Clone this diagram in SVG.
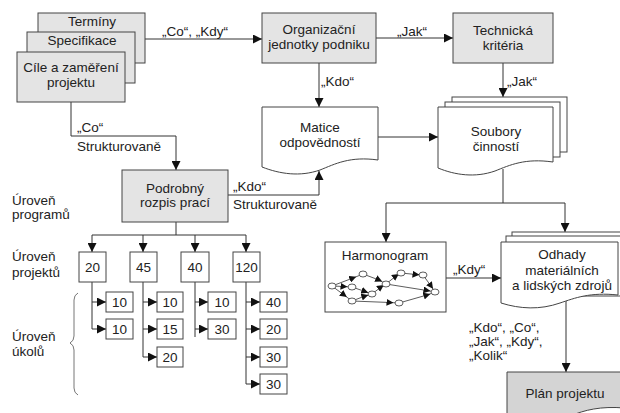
<svg xmlns="http://www.w3.org/2000/svg" width="620" height="413" viewBox="0 0 620 413">
<style>
text{font-family:"Liberation Sans",Arial,sans-serif;font-size:13.5px;fill:#222}
.c{text-anchor:middle}
.g{fill:#e4e4e4;stroke:#444;stroke-width:1}
.w{fill:#fff;stroke:#444;stroke-width:1}
.p{fill:#d4d4d4;stroke:#444;stroke-width:1}
.ln{fill:none;stroke:#333;stroke-width:1}
.nl{fill:none;stroke:#333;stroke-width:0.8}
.nd{fill:#fff;stroke:#333;stroke-width:0.8}
</style>
<defs>
<marker id="ah" viewBox="0 0 10 10" refX="10" refY="5" markerWidth="9" markerHeight="9" markerUnits="userSpaceOnUse" orient="auto"><path d="M0,0 L10,5 L0,10 Z" fill="#111"/></marker>
<marker id="sm" viewBox="0 0 10 10" refX="5" refY="5" markerWidth="7" markerHeight="7" markerUnits="userSpaceOnUse" orient="auto"><path d="M0,0 L10,5 L0,10 Z" fill="#111"/></marker>
</defs>

<g id="connectors">
<path class="ln" d="M145,39 H262" marker-end="url(#ah)"/>
<path class="ln" d="M376,38 H453" marker-end="url(#ah)"/>
<path class="ln" d="M319,63 V107" marker-end="url(#ah)"/>
<path class="ln" d="M503,63 V97" marker-end="url(#ah)"/>
<path class="ln" d="M378,137 H438" marker-end="url(#ah)"/>
<path class="ln" d="M71,102 V136 H176 V170" marker-end="url(#ah)"/>
<path class="ln" d="M228,195 H319 V171" marker-end="url(#ah)"/>
<path class="ln" d="M503,169 V203"/>
<path class="ln" d="M386,203 H565"/>
<path class="ln" d="M386,203 V242" marker-end="url(#ah)"/>
<path class="ln" d="M565,203 V232" marker-end="url(#ah)"/>
<path class="ln" d="M446,278 H501" marker-end="url(#ah)"/>
<path class="ln" d="M566,300 V372" marker-end="url(#ah)"/>
<path class="ln" d="M176,222 V235"/>
<path class="ln" d="M92,235 H246"/>
<path class="ln" d="M92,235 V252" marker-end="url(#ah)"/>
<path class="ln" d="M143,235 V252" marker-end="url(#ah)"/>
<path class="ln" d="M195,235 V252" marker-end="url(#ah)"/>
<path class="ln" d="M246,235 V252" marker-end="url(#ah)"/>
<path class="ln" d="M92,282 V329"/>
<path class="ln" d="M92,302 H106" marker-end="url(#ah)"/>
<path class="ln" d="M92,329 H106" marker-end="url(#ah)"/>
<path class="ln" d="M143,282 V357"/>
<path class="ln" d="M143,302 H157" marker-end="url(#ah)"/>
<path class="ln" d="M143,329 H157" marker-end="url(#ah)"/>
<path class="ln" d="M143,357 H157" marker-end="url(#ah)"/>
<path class="ln" d="M195,282 V337"/>
<path class="ln" d="M195,302 H208" marker-end="url(#ah)"/>
<path class="ln" d="M195,329 H208" marker-end="url(#ah)"/>
<path class="ln" d="M246,282 V384"/>
<path class="ln" d="M246,302 H260" marker-end="url(#ah)"/>
<path class="ln" d="M246,329 H260" marker-end="url(#ah)"/>
<path class="ln" d="M246,357 H260" marker-end="url(#ah)"/>
<path class="ln" d="M246,384 H260" marker-end="url(#ah)"/>
</g>

<g id="labels">
<text x="162" y="36">„Co“, „Kdy“</text>
<text x="397" y="36">„Jak“</text>
<text x="321" y="86">„Kdo“</text>
<text x="507" y="86">„Jak“</text>
<text x="77" y="132">„Co“</text>
<text x="77" y="151">Strukturovaně</text>
<text x="233" y="191">„Kdo“</text>
<text x="233" y="209">Strukturovaně</text>
<text x="453" y="274">„Kdy“</text>
<text x="469" y="332">„Kdo“, „Co“,</text>
<text x="469" y="346">„Jak“, „Kdy“,</text>
<text x="469" y="360">„Kolik“</text>
<text x="12" y="205">Úroveň</text>
<text x="12" y="219">programů</text>
<text x="12" y="261">Úroveň</text>
<text x="12" y="277">projektů</text>
<text x="12" y="341">Úroveň</text>
<text x="12" y="356">úkolů</text>
<path d="M78,293 Q74,295 74,300 L74,336 Q74,341 70,343 Q74,345 74,350 L74,388 Q74,393 78,395" fill="none" stroke="#777" stroke-width="1"/>
</g>

<g id="terminy"><rect class="g" x="38" y="13" width="107" height="50"/><text class="c" x="92" y="26">Termíny</text></g>
<g id="specifikace"><rect class="g" x="27" y="32" width="108" height="51"/><text class="c" x="82" y="45">Specifikace</text></g>
<g id="cile"><rect class="g" x="17" y="52" width="108" height="50"/><text class="c" x="71" y="72">Cíle a zaměření</text><text class="c" x="71" y="87">projektu</text></g>
<g id="organizacni"><rect class="g" x="262" y="13" width="114" height="50"/><text class="c" x="319" y="34">Organizační</text><text class="c" x="319" y="49">jednotky podniku</text></g>
<g id="technicka"><rect class="g" x="453" y="13" width="100" height="50"/><text class="c" x="503" y="35">Technická</text><text class="c" x="503" y="50">kritéria</text></g>
<g id="matice"><path class="w" d="M262,107 H378 V160 C350,156 335,164 320,170 C300,177 280,174 262,167 Z"/><text class="c" x="320" y="132">Matice</text><text class="c" x="320" y="147">odpovědností</text></g>
<g id="soubory">
<rect class="w" x="452" y="97" width="115" height="55"/>
<rect class="w" x="445" y="102" width="115" height="55"/>
<path class="w" d="M438,107 H553 V162 C525,158 510,165 495,171 C475,178 455,175 438,168 Z"/>
<text class="c" x="496" y="136">Soubory</text><text class="c" x="496" y="151">činností</text></g>
<g id="podrobny"><rect class="g" x="122" y="170" width="106" height="52"/><text class="c" x="175" y="193">Podrobný</text><text class="c" x="175" y="207">rozpis prací</text></g>
<g id="p20"><rect class="w" x="79" y="252" width="27" height="30"/><text class="c" x="92.5" y="272">20</text></g>
<g id="p45"><rect class="w" x="130" y="252" width="27" height="30"/><text class="c" x="143.5" y="272">45</text></g>
<g id="p40"><rect class="w" x="181" y="252" width="28" height="30"/><text class="c" x="195" y="272">40</text></g>
<g id="p120"><rect class="w" x="233" y="252" width="27" height="30"/><text class="c" x="246.5" y="272">120</text></g>
<g id="t1a"><rect class="w" x="106" y="292" width="27" height="20"/><text class="c" x="119.5" y="307">10</text></g>
<g id="t1b"><rect class="w" x="106" y="319" width="27" height="20"/><text class="c" x="119.5" y="334">10</text></g>
<g id="t2a"><rect class="w" x="157" y="292" width="26" height="20"/><text class="c" x="170" y="307">10</text></g>
<g id="t2b"><rect class="w" x="157" y="319" width="26" height="20"/><text class="c" x="170" y="334">15</text></g>
<g id="t2c"><rect class="w" x="157" y="347" width="26" height="20"/><text class="c" x="170" y="362">20</text></g>
<g id="t3a"><rect class="w" x="208" y="292" width="28" height="20"/><text class="c" x="222" y="307">10</text></g>
<g id="t3b"><rect class="w" x="208" y="319" width="28" height="20"/><text class="c" x="222" y="334">30</text></g>
<g id="t4a"><rect class="w" x="260" y="292" width="27" height="20"/><text class="c" x="273.5" y="307">40</text></g>
<g id="t4b"><rect class="w" x="260" y="319" width="27" height="20"/><text class="c" x="273.5" y="334">20</text></g>
<g id="t4c"><rect class="w" x="260" y="347" width="27" height="20"/><text class="c" x="273.5" y="362">30</text></g>
<g id="t4d"><rect class="w" x="260" y="374" width="27" height="20"/><text class="c" x="273.5" y="389">30</text></g>

<g id="harmonogram">
<rect class="w" x="325" y="242" width="121" height="70"/>
<text class="c" x="385" y="260">Harmonogram</text>
<g class="nl">
<path d="M332,286 L353,278 L363,274" marker-mid="url(#sm)"/>
<path d="M332,286 L344,286.5 L352,287" marker-mid="url(#sm)"/>
<path d="M332,286 L344,295 L352,301" marker-mid="url(#sm)"/>
<path d="M363,274 L379,280 L386,284" marker-mid="url(#sm)"/>
<path d="M352,287 L365,291.5 L372,294" marker-mid="url(#sm)"/>
<path d="M352,301 L365,296 L372,294" marker-mid="url(#sm)"/>
<path d="M372,294 L381,287 L386,284" marker-mid="url(#sm)"/>
<path d="M386,284 L396,276 L401,273" marker-mid="url(#sm)"/>
<path d="M401,273 L416,274.5 L423,275" marker-mid="url(#sm)"/>
<path d="M423,275 L431,286 L435,292" marker-mid="url(#sm)"/>
<path d="M386,284 L427,290.5 L435,292" marker-mid="url(#sm)"/>
<path d="M352,301 L390,302.5 L399,303" marker-mid="url(#sm)"/>
<path d="M399,303 L427,295 L435,292" marker-mid="url(#sm)"/>
</g>
<g class="nd">
<ellipse cx="332" cy="286" rx="4" ry="3"/>
<ellipse cx="363" cy="274" rx="4" ry="3"/>
<ellipse cx="352" cy="287" rx="4" ry="3"/>
<ellipse cx="352" cy="301" rx="4" ry="3"/>
<ellipse cx="372" cy="294" rx="4" ry="3"/>
<ellipse cx="386" cy="284" rx="4" ry="3"/>
<ellipse cx="401" cy="273" rx="4" ry="3"/>
<ellipse cx="423" cy="275" rx="4" ry="3"/>
<ellipse cx="435" cy="292" rx="4" ry="3"/>
<ellipse cx="399" cy="303" rx="4" ry="3"/>
</g>
</g>

<g id="odhady">
<rect class="w" x="512" y="232" width="120" height="60"/>
<rect class="w" x="506" y="236" width="120" height="60"/>
<path class="w" d="M501,242 H618 V295 C590,292 575,298 560,303 C540,310 520,309 501,303 Z"/>
<text class="c" x="562" y="259">Odhady</text>
<text class="c" x="562" y="275">materiálních</text>
<text class="c" x="562" y="290">a lidských zdrojů</text>
</g>

<g id="plan">
<path class="p" d="M507,372 H625 V408 C600,406 585,410 570,416 L507,416 Z"/>
<text class="c" x="565" y="398">Plán projektu</text>
</g>
</svg>
